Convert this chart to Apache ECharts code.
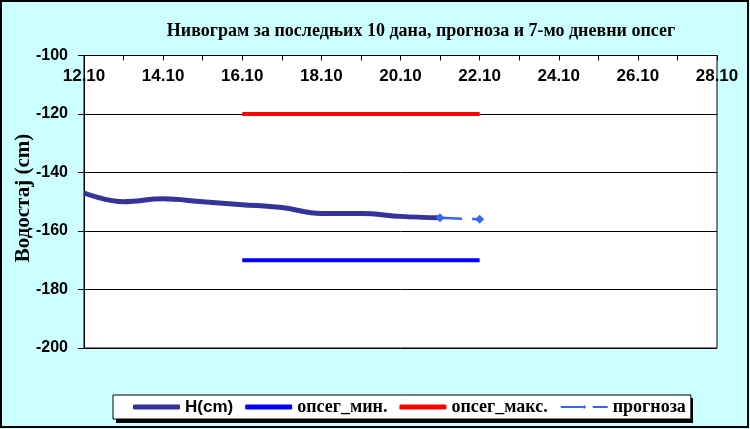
<!DOCTYPE html>
<html><head><meta charset="utf-8">
<script src="https://cdn.jsdelivr.net/npm/echarts@6/dist/echarts.min.js"></script>
<style>html,body{margin:0;padding:0;background:#fff}#c{width:750px;height:429px}</style>
</head><body><div id="c"></div>
<script>
const dates = ['12.10','13.10','14.10','15.10','16.10','17.10','18.10','19.10','20.10','21.10','22.10','23.10','24.10','25.10','26.10','27.10','28.10'];
const hValues = [-147,-150,-149,-150,-151,-152,-154,-154,-155,-155.5];
const minValues = [null,null,null,null,-170,-170,-170,-170,-170,-170,-170];
const maxValues = [null,null,null,null,-120,-120,-120,-120,-120,-120,-120];
const forecastValues = [null,null,null,null,null,null,null,null,null,-155.5,-156];
const yTicks = {min:-200, max:-100, interval:20};
const titleText = 'Нивограм за последњих 10 дана, прогноза и 7-мо дневни опсег';
const yName = 'Водостај (cm)';

const chart = echarts.init(document.getElementById('c'), null, {renderer:'canvas'});
chart.setOption({
  animation:false,
  backgroundColor:'#ccffff',
  graphic:[
    {type:'rect', z:100, silent:true, shape:{x:1,y:1,width:747,height:426}, style:{fill:'none', stroke:'#000', lineWidth:2}},
    {type:'rect', z:0, silent:true, shape:{x:116,y:398,width:577,height:25}, style:{fill:'#000'}},
    {type:'text', z:10, silent:true, x:24, y:198, rotation:Math.PI/2,
      style:{text:yName, fill:'#000', font:'bold 21px "Liberation Serif"', align:'center', verticalAlign:'middle'}}
  ],
  title:{text:titleText, left:416, textAlign:'center', top:17,
    textStyle:{fontFamily:'Liberation Serif', fontWeight:'bold', fontSize:18, color:'#000'}},
  grid:{left:84, right:33, top:55.5, bottom:81, show:true, backgroundColor:'#fff', borderColor:'#000', borderWidth:1},
  xAxis:{type:'category', data:dates, boundaryGap:false, position:'top',
    axisLine:{lineStyle:{color:'#000', width:1}},
    axisTick:{inside:true, interval:0, length:5, lineStyle:{color:'#000'}},
    axisLabel:{inside:true, interval:1, margin:12, fontFamily:'Liberation Sans', fontWeight:'bold', fontSize:17, color:'#000'},
    splitLine:{show:false}},
  yAxis:{type:'value', min:yTicks.min, max:yTicks.max, interval:yTicks.interval,
    axisLine:{show:true, lineStyle:{color:'#000'}},
    axisTick:{show:true, length:6, lineStyle:{color:'#000'}},
    axisLabel:{margin:16, fontFamily:'Liberation Sans', fontWeight:'bold', fontSize:16, color:'#000'},
    splitLine:{lineStyle:{color:'#000', width:1}}},
  legend:{left:113, top:395, itemWidth:47, itemHeight:5, itemGap:12, z:5,
    padding:[3,5,3,20], backgroundColor:'#fff', borderColor:'#000', borderWidth:1, borderRadius:0,
    textStyle:{fontFamily:'Liberation Serif', fontWeight:'bold', fontSize:18, color:'#000'},
    data:[
      {name:'H(cm)', icon:'roundRect', textStyle:{fontFamily:'Liberation Sans', fontWeight:'bold', fontSize:17, color:'#000'}},
      {name:'опсег_мин.', icon:'roundRect'},
      {name:'опсег_макс.', icon:'roundRect'},
      {name:'прогноза'}
    ]},
  series:[
    {name:'H(cm)', type:'line', data:hValues, smooth:0.4, showSymbol:false, symbol:'none',
      lineStyle:{color:'#333399', width:5}, itemStyle:{color:'#333399'}, z:3},
    {name:'опсег_мин.', type:'line', data:minValues, symbol:'none',
      lineStyle:{color:'#0000ff', width:4}, itemStyle:{color:'#0000ff'}},
    {name:'опсег_макс.', type:'line', data:maxValues, symbol:'none',
      lineStyle:{color:'#ff0000', width:4}, itemStyle:{color:'#ff0000'}},
    {name:'прогноза', type:'line', data:forecastValues, symbol:'diamond', symbolSize:9, showSymbol:true,
      lineStyle:{color:'#3366ff', width:2.5, type:[22,10]}, itemStyle:{color:'#3366ff'}, z:4}
  ]
});
</script></body></html>
